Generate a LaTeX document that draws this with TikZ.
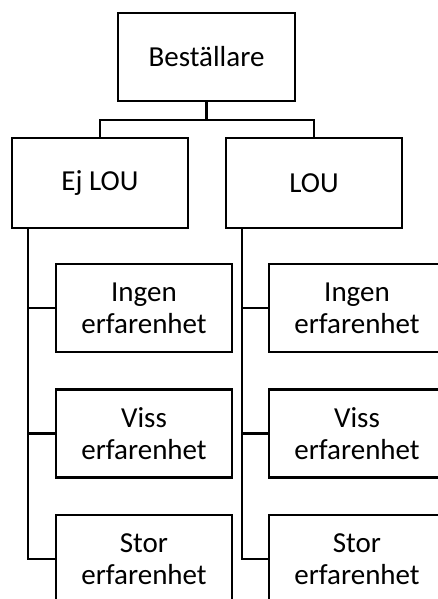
\documentclass[tikz,border=0pt]{standalone}
\usepackage{fontspec}
\setmainfont{Carlito}
\begin{document}
\begin{tikzpicture}[x=1pt,y=-1pt,
  box/.style={draw,line width=2.3pt,minimum width=176pt,minimum height=88pt,
    inner sep=0pt,align=center,font=\fontsize{29}{32}\selectfont},
  conn/.style={line width=2.2pt}]
\useasboundingbox (0,0) rectangle (438,599);
\clip (0,0) rectangle (438,599);
\node[box,minimum width=177pt] (top) at (206.5,57) {Beställare};
\node[box,minimum height=90pt] (ej) at (100,183) {Ej LOU};
\node[box,minimum height=90pt] (lou) at (314,183) {LOU};
\node[box] (l1) at (144,308) {Ingen\\erfarenhet};
\node[box] (l2) at (144,433.5) {Viss\\erfarenhet};
\node[box] (l3) at (144,559) {Stor\\erfarenhet};
\node[box] (r1) at (357,308) {Ingen\\erfarenhet};
\node[box] (r2) at (357,433.5) {Viss\\erfarenhet};
\node[box] (r3) at (357,559) {Stor\\erfarenhet};
\coordinate (bus) at (206.5,120);
\draw[conn] (top.south) -- (bus);
\draw[conn] (ej.north) |- (bus) -| (lou.north);
\coordinate (lt) at ([xshift=17pt]ej.south west);
\coordinate (rt) at ([xshift=17pt]lou.south west);
\draw[conn] (lt) |- (l3.west);
\draw[conn] (lt |- l1.west) -- (l1.west);
\draw[conn] (lt |- l2.west) -- (l2.west);
\draw[conn] (rt) |- (r3.west);
\draw[conn] (rt |- r1.west) -- (r1.west);
\draw[conn] (rt |- r2.west) -- (r2.west);
\end{tikzpicture}
\end{document}
